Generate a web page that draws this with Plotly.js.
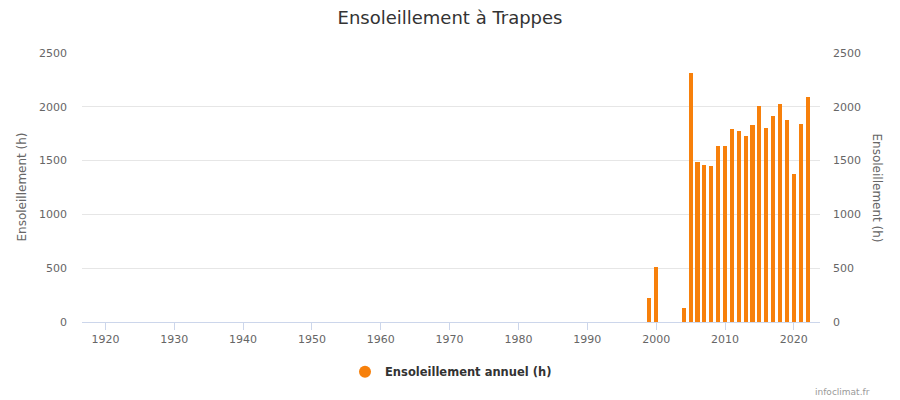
<!DOCTYPE html>
<html>
<head>
<meta charset="utf-8">
<script src="https://cdn.plot.ly/plotly-3.0.1.min.js"></script>
<style>html,body{margin:0;padding:0;background:#fff;}#chart{width:900px;height:400px;}</style>
</head>
<body>
<div id="chart"></div>
<script>
const years = [1999, 2000, 2004, 2005, 2006, 2007, 2008, 2009, 2010, 2011, 2012, 2013, 2014, 2015, 2016, 2017, 2018, 2019, 2020, 2021, 2022];
const sunshine = [223, 511, 130, 2317, 1487, 1459, 1450, 1636, 1636, 1794, 1775, 1729, 1831, 2007, 1803, 1914, 2029, 1877, 1375, 1840, 2094];
const xTicks = [1920, 1930, 1940, 1950, 1960, 1970, 1980, 1990, 2000, 2010, 2020];
const yTicks = [0, 500, 1000, 1500, 2000, 2500];
const seriesName = 'Ensoleillement annuel (h)';
const axisTitle = 'Ensoleillement (h)';
const chartTitle = 'Ensoleillement à Trappes';
const barColor = '#f7800b';
const font = 'DejaVu Sans, Verdana, sans-serif';

const traces = [
  {type: 'bar', x: years, y: sunshine, marker: {color: barColor, line: {width: 0}}, width: 0.6, showlegend: false, hoverinfo: 'x+y'},
  {type: 'scatter', mode: 'markers', x: [null], y: [null], name: seriesName, marker: {color: barColor, size: 12, symbol: 'circle'}, showlegend: true},
  {type: 'scatter', mode: 'markers', x: [null], y: [null], yaxis: 'y2', showlegend: false, hoverinfo: 'skip'}
];

const layout = {
  width: 900, height: 400,
  margin: {l: 82, r: 80, t: 53, b: 78, autoexpand: false},
  paper_bgcolor: '#fff', plot_bgcolor: '#fff',
  font: {family: font, color: '#666', size: 11},
  title: {text: chartTitle, font: {family: font, size: 18, color: '#333'}, x: 0.5, xanchor: 'center', y: 0.955, yanchor: 'middle', automargin: false},
  bargap: 0,
  xaxis: {
    range: [1916.6, 2023.8], tickvals: xTicks, ticktext: xTicks.map(String),
    showgrid: false, zeroline: false, showline: true, linecolor: '#ccd6eb', linewidth: 1,
    ticks: 'outside', ticklen: 7, tickcolor: '#ccd6eb', tickfont: {size: 11, color: '#666'}, fixedrange: true, automargin: false
  },
  yaxis: {
    range: [0, 2500], tickvals: yTicks, ticktext: yTicks.map(String),
    showgrid: true, gridcolor: '#e6e6e6', zeroline: false, showline: false,
    ticks: '', ticklabelstandoff: 14, tickfont: {size: 11, color: '#666'}, automargin: false
  },
  yaxis2: {
    overlaying: 'y', side: 'right', range: [0, 2500], tickvals: yTicks, ticktext: yTicks.map(String),
    showgrid: false, zeroline: false, showline: false, ticks: '', ticklabelstandoff: 12,
    tickfont: {size: 11, color: '#666'}, automargin: false
  },
  legend: {orientation: 'h', x: 0.5, xanchor: 'center', y: -0.185, yanchor: 'middle',
    font: {family: font, size: 11.5, color: '#333', weight: 'bold'}, itemsizing: 'constant'},
  annotations: [
    {text: axisTitle, xref: 'paper', yref: 'paper', x: 0, xshift: -61, y: 0.5, textangle: -90, showarrow: false,
     font: {family: font, size: 12, color: '#666'}, xanchor: 'center', yanchor: 'middle'},
    {text: axisTitle, xref: 'paper', yref: 'paper', x: 1, xshift: 57, y: 0.5, textangle: 90, showarrow: false,
     font: {family: font, size: 12, color: '#666'}, xanchor: 'center', yanchor: 'middle'},
    {text: 'infoclimat.fr', xref: 'paper', yref: 'paper', x: 1, xshift: 52, y: 0, yshift: -70, showarrow: false,
     font: {family: font, size: 9, color: '#999'}, xanchor: 'right', yanchor: 'middle'}
  ]
};

Plotly.newPlot('chart', traces, layout, {displayModeBar: false, staticPlot: true});
</script>
</body>
</html>
